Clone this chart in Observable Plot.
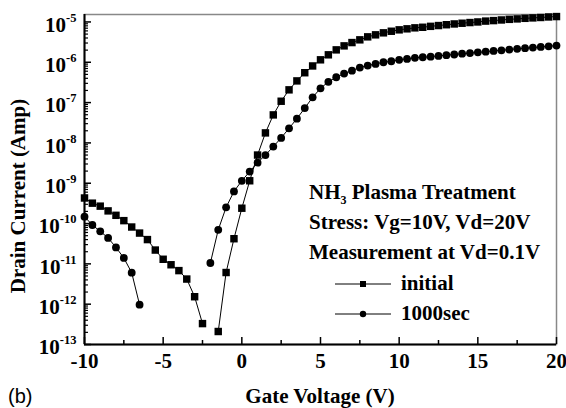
<!DOCTYPE html>
<html><head><meta charset="utf-8">
<script src="https://cdn.jsdelivr.net/npm/d3@7"></script>
<script src="https://cdn.jsdelivr.net/npm/@observablehq/plot@0.6"></script>
<style>
body{margin:0;background:#fff;}
#wrap{position:relative;width:566px;height:408px;font-family:"Liberation Serif","Times New Roman",serif;font-weight:bold;color:#000;overflow:hidden;}
#wrap svg{position:absolute;left:0;top:0;}
.abs{position:absolute;white-space:nowrap;}
.note{font-size:21px;line-height:30px;height:30px;}
</style></head><body><div id="wrap"></div>
<script>
// ---- data ----
const gateVoltage = [-10,-9.5,-9,-8.5,-8,-7.5,-7,-6.5,-6,-5.5,-5,-4.5,-4,-3.5,-3,-2.5,-2,-1.5,-1,-0.5,
  0,0.5,1,1.5,2,2.5,3,3.5,4,4.5,5,5.5,6,6.5,7,7.5,8,8.5,9,9.5,
  10,10.5,11,11.5,12,12.5,13,13.5,14,14.5,15,15.5,16,16.5,17,17.5,18,18.5,19,19.5,20];
const initialCurrent = [4.3e-10,3.2e-10,2.7e-10,2.06e-10,1.6e-10,1.18e-10,8.2e-11,5.8e-11,4.0e-11,2.2e-11,
  1.3e-11,9.5e-12,6.8e-12,4.2e-12,1.53e-12,3.3e-13,null,2.1e-13,6.1e-12,4.2e-11,
  2.4e-10,1.15e-9,5.0e-9,1.77e-8,4.95e-8,1.08e-7,2.07e-7,3.45e-7,5.5e-7,8.1e-7,
  1.15e-6,1.53e-6,2.03e-6,2.55e-6,3.08e-6,3.6e-6,4.27e-6,4.79e-6,5.37e-6,5.88e-6,
  6.37e-6,6.75e-6,7.14e-6,7.38e-6,7.78e-6,8.14e-6,8.53e-6,8.92e-6,9.29e-6,9.66e-6,
  1.0e-5,1.05e-5,1.08e-5,1.12e-5,1.16e-5,1.19e-5,1.23e-5,1.26e-5,1.29e-5,1.33e-5,1.36e-5];
const stressedCurrent = [1.48e-10,9.2e-11,6.4e-11,4.4e-11,2.56e-11,1.4e-11,6.05e-12,9.7e-13,null,null,
  null,null,null,null,null,null,1.05e-11,6.98e-11,2.52e-10,6.25e-10,
  1.15e-9,1.94e-9,3.24e-9,5.0e-9,8.1e-9,1.33e-8,2.3e-8,4.0e-8,7.3e-8,1.35e-7,
  2.26e-7,3.27e-7,4.25e-7,5.25e-7,6.2e-7,7.4e-7,8.3e-7,9.1e-7,1.0e-6,1.06e-6,
  1.15e-6,1.21e-6,1.29e-6,1.33e-6,1.38e-6,1.44e-6,1.5e-6,1.56e-6,1.63e-6,1.69e-6,
  1.76e-6,1.83e-6,1.91e-6,1.98e-6,2.06e-6,2.15e-6,2.24e-6,2.32e-6,2.4e-6,2.49e-6,2.6e-6];
const seriesNames = ["initial","1000sec"];
const xMajorTicks = [-10,-5,0,5,10,15,20];
const xMinorTicks = [-7.5,-2.5,2.5,7.5,12.5,17.5];
const yMajorTicks = [1e-13,1e-12,1e-11,1e-10,1e-9,1e-8,1e-7,1e-6,1e-5];
const yMinorMultipliers = [2,3,4,5,6,7,8,9];
const xDomain = [-10,20];
const yDomain = [1e-13,1.53e-5];
const noteLines = ["NH<span style='font-size:12px;vertical-align:-5px'>3</span> Plasma Treatment","Stress: Vg=10V, Vd=20V","Measurement at Vd=0.1V"];
const xTitle = "Gate Voltage (V)";
const yTitle = "Drain Current (Amp)";
const panelLabel = "(b)";

// ---- build ----
const rows = gateVoltage.map((v,i)=>({v, a: initialCurrent[i], b: stressedCurrent[i]}));
const yMinorTicks = yMajorTicks.slice(0,-1).flatMap(t => yMinorMultipliers.map(m => t*m));
const serif = '"Liberation Serif","Times New Roman",serif';

const plot = Plot.plot({
  width:566, height:408, marginTop:14, marginRight:10, marginBottom:64, marginLeft:84,
  style:{fontFamily:serif, background:"transparent", overflow:"visible"},
  x:{domain:xDomain},
  y:{type:"log", domain:yDomain},
  marks:[
    Plot.frame({stroke:"#888", strokeWidth:1.5}),
    Plot.line(rows,{x:"v", y:"a", stroke:"black", strokeWidth:1}),
    Plot.line(rows,{x:"v", y:"b", stroke:"black", strokeWidth:1}),
    Plot.dot(rows.filter(d=>d.a!=null),{x:"v", y:"a", symbol:"square", r:4.2, fill:"black", stroke:"none"}),
    Plot.dot(rows.filter(d=>d.b!=null),{x:"v", y:"b", symbol:"circle", r:3.9, fill:"black", stroke:"none"}),
    Plot.ruleX([xDomain[0]],{stroke:"black", strokeWidth:2}),
    Plot.ruleY([yDomain[0]],{stroke:"black", strokeWidth:2}),
    Plot.axisX({ticks:xMajorTicks, tickSize:7, dy:-7, tickFormat:()=>"", label:null, strokeWidth:1.5}),
    Plot.axisX({ticks:xMinorTicks, tickSize:4, dy:-4, tickFormat:()=>"", label:null, strokeWidth:1.5}),
    Plot.axisY({ticks:yMajorTicks, tickSize:7, dx:7, tickFormat:()=>"", label:null, strokeWidth:1.5}),
    Plot.axisY({ticks:yMinorTicks, tickSize:4, dx:4, tickFormat:()=>"", label:null, strokeWidth:1.2}),
    Plot.axisX({ticks:xMajorTicks, tickSize:0, tickPadding:9, tickFormat:d=>String(d), label:null, fontSize:21, fontWeight:"bold"}),
    Plot.axisY({ticks:yMajorTicks, tickSize:0, tickPadding:8, dy:3, tickFormat:d=>"10^"+Math.round(Math.log10(d)), label:null, fontSize:21, fontWeight:"bold"})
  ]
});

// superscripts on the y tick labels
plot.querySelectorAll('g[aria-label="y-axis tick label"] text').forEach(t => {
  const s = t.textContent;
  if (!s.includes("^")) return;
  const [base, exp] = s.split("^");
  t.textContent = base;
  const ts = document.createElementNS("http://www.w3.org/2000/svg","tspan");
  ts.setAttribute("font-size","12.5");
  ts.setAttribute("dy","-10");
  ts.textContent = exp;
  t.appendChild(ts);
});

const wrap = document.getElementById("wrap");
wrap.appendChild(plot);

function addDiv(html, css){ const d=document.createElement("div"); d.className="abs"; d.innerHTML=html; Object.assign(d.style, css); wrap.appendChild(d); return d; }

noteLines.forEach((l,i)=> addDiv(l,{left:"309px", top:(177+30*i)+"px", fontSize:"21px", lineHeight:"30px"}));

const legendSym = [
  "<svg width='56' height='12'><line x1='0' y1='6' x2='56' y2='6' stroke='black' stroke-width='1'/><rect x='25' y='3' width='6' height='6' fill='black'/></svg>",
  "<svg width='56' height='12'><line x1='0' y1='6' x2='56' y2='6' stroke='black' stroke-width='1'/><circle cx='28' cy='6' r='3.2' fill='black'/></svg>"
];
seriesNames.forEach((n,i)=>{
  addDiv(legendSym[i],{left:"335px", top:(278+30*i)+"px", lineHeight:"0"});
  addDiv(n,{left:"401px", top:(268+30*i)+"px", fontSize:"21px", lineHeight:"30px"});
});

addDiv(xTitle,{left:"320px", top:"396px", fontSize:"21px", transform:"translate(-50%,-50%)"});
addDiv(yTitle,{left:"18px", top:"196px", fontSize:"21px", transform:"translate(-50%,-50%) rotate(-90deg)"});
addDiv(panelLabel,{left:"8px", top:"396px", fontSize:"20px", fontWeight:"normal", fontFamily:'"Liberation Sans",Arial,sans-serif', transform:"translateY(-50%)"});
</script></body></html>
